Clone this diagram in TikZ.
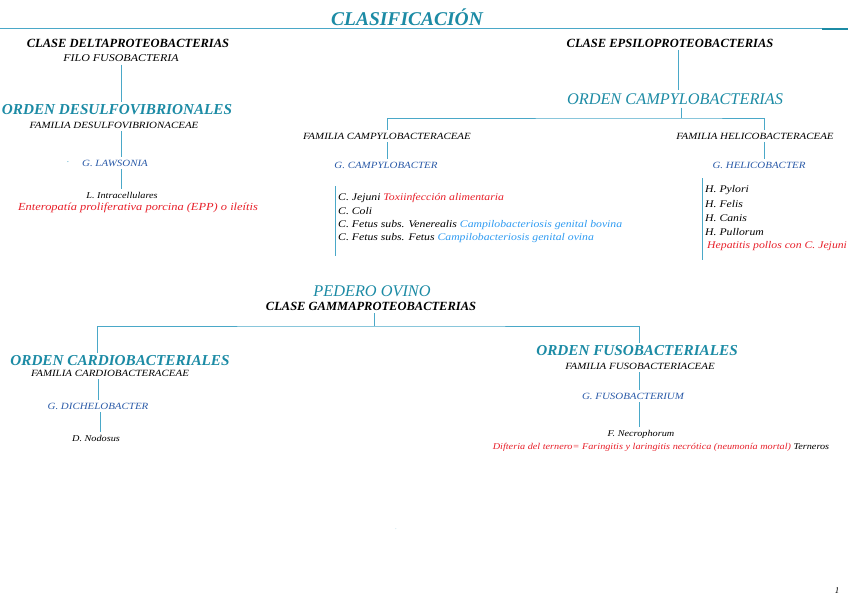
\documentclass[tikz,border=0pt]{standalone}
\usepackage{fontspec}
\setmainfont{Liberation Serif}
\usetikzlibrary{positioning}

\definecolor{tealtit}{HTML}{1C8BA5}
\definecolor{linea}{HTML}{4AA8C8}
\definecolor{genazul}{HTML}{2A5AA8}
\definecolor{rojo}{HTML}{E8202A}
\definecolor{celeste}{HTML}{2E9BF2}

% texto algo ensanchado
\newcommand{\ancho}[1]{\scalebox{1.15}[1]{#1}}

\tikzset{
  titulo/.style={font=\fontsize{19.5}{22}\selectfont\bfseries\itshape, text=tealtit},
  clase/.style={font=\fontsize{12.5}{14}\selectfont\bfseries\itshape},
  orden/.style={font=\fontsize{15.2}{17}\selectfont\bfseries\itshape, text=tealtit},
  ordenl/.style={font=\fontsize{16.3}{18}\selectfont\itshape, text=tealtit},
  filo/.style={font=\fontsize{10.4}{12}\selectfont\itshape},
  familia/.style={font=\fontsize{9.5}{11}\selectfont\itshape},
  genero/.style={font=\fontsize{9.5}{11}\selectfont\itshape, text=genazul},
  especie/.style={font=\fontsize{10.2}{12}\selectfont\itshape},
  enfermedad/.style={font=\fontsize{10.8}{12}\selectfont\itshape, text=rojo},
  chica/.style={font=\fontsize{8.9}{10}\selectfont\itshape},
  conn/.style={draw=linea, line width=0.9pt, shorten <=3pt, shorten >=3pt},
  barra/.style={draw=linea, line width=1pt}
}

\begin{document}
\begin{tikzpicture}[x=1pt,y=-1pt, every node/.style={inner sep=0pt}]
\useasboundingbox[fill=white] (0,0) rectangle (848,599);

% titulo
\node[titulo, anchor=base] (tit) at (407,26) {CLASIFICACIÓN};
\draw[barra] (0,29) -- (848,29);
\draw[draw=tealtit, line width=1.4pt] (822,29) -- (848,29);

% delta
\node[clase] (cdelta) at (128,43) {CLASE DELTAPROTEOBACTERIAS};
\node[filo] (filo) at (121,58) {\ancho{FILO FUSOBACTERIA}};
\node[orden] (odesulfo) at (117,110) {ORDEN DESULFOVIBRIONALES};
\node[familia] (fdesulfo) at (114,125) {\ancho{FAMILIA DESULFOVIBRIONACEAE}};
\node[text=linea, font=\fontsize{9}{9}\selectfont] (punto) at (68,162) {.};
\node[genero] (glaw) at (115,163) {\ancho{G. LAWSONIA}};
\node[chica] (lintra) at (122,195) {\ancho{L. Intracellulares}};
\node[enfermedad] (epp) at (138,208) {\ancho{Enteropatía proliferativa porcina (EPP) o ileítis}};

\draw[conn] (filo.south) -- (filo.south |- odesulfo.north);
\draw[conn] ([xshift=7pt]fdesulfo.south) -- ([xshift=7pt]fdesulfo.south |- glaw.north);
\draw[conn] ([xshift=6pt]glaw.south) -- ([xshift=6pt]glaw.south |- lintra.north);

% epsilon
\node[clase] (cepsilon) at (670,43) {CLASE EPSILOPROTEOBACTERIAS};
\node[ordenl] (ocampy) at (675,99) {ORDEN CAMPYLOBACTERIAS};
\coordinate (busC) at (681,118);
\node[familia] (fcampy) at (387,136) {\ancho{FAMILIA CAMPYLOBACTERACEAE}};
\node[familia] (fhelico) at (755,136) {\ancho{FAMILIA HELICOBACTERACEAE}};
\node[genero] (gcampy) at (386,165) {\ancho{G. CAMPYLOBACTER}};
\node[genero] (ghelico) at (759,165) {\ancho{G. HELICOBACTER}};

\draw[conn] ([xshift=8pt]cepsilon.south) -- ([xshift=8pt]cepsilon.south |- ocampy.north);
\draw[conn, shorten >=0pt] (ocampy.south -| busC) -- (busC);
\draw[conn] (fcampy.north) |- (busC) -| ([xshift=9pt]fhelico.north);
\draw[conn] (fcampy.south) -- (fcampy.south |- gcampy.north);
\draw[conn] ([xshift=9pt]fhelico.south) -- ([xshift=9pt]fhelico.south |- ghelico.north);

\draw[barra] (335,186) -- (335,256);
\node[especie, anchor=west] (cjejuni) at (338,198) {\ancho{C. Jejuni \textcolor{rojo}{Toxiinfección alimentaria}}};
\node[especie, anchor=west] (ccoli) at (338,211) {\ancho{C. Coli}};
\node[especie, anchor=west] (cvener) at (338,225) {\ancho{C. Fetus subs. Venerealis \textcolor{celeste}{Campilobacteriosis genital bovina}}};
\node[especie, anchor=west] (cfetus) at (338,238) {\ancho{C. Fetus subs. Fetus \textcolor{celeste}{Campilobacteriosis genital ovina}}};

\draw[barra] (702,178) -- (702,260);
\node[especie, anchor=west] (hpylori) at (705,190) {\ancho{H. Pylori}};
\node[especie, anchor=west] (hfelis) at (705,204) {\ancho{H. Felis}};
\node[especie, anchor=west] (hcanis) at (705,218) {\ancho{H. Canis}};
\node[especie, anchor=west] (hpullo) at (705,232) {\ancho{H. Pullorum}};
\node[especie, anchor=west, text=rojo] (hepat) at (707,246) {\ancho{Hepatitis pollos con C. Jejuni}};

% gamma
\node[ordenl] (pedero) at (372,291) {PEDERO OVINO};
\node[clase] (cgamma) at (371,306) {CLASE GAMMAPROTEOBACTERIAS};
\coordinate (busG) at (374,326);
\node[orden] (ocardio) at (120,361) {ORDEN CARDIOBACTERIALES};
\node[orden] (ofuso) at (637,351) {ORDEN FUSOBACTERIALES};

\draw[conn, shorten >=0pt] (cgamma.south -| busG) -- (busG);
\draw[conn] ([xshift=-23pt]ocardio.north) |- (busG) -| ([xshift=2pt]ofuso.north);

\node[familia] (fcardio) at (110,373) {\ancho{FAMILIA CARDIOBACTERACEAE}};
\node[genero] (gdichelo) at (98,406) {\ancho{G. DICHELOBACTER}};
\node[chica] (dnodo) at (96,438) {\ancho{D. Nodosus}};
\draw[conn] ([xshift=-12pt]fcardio.south) -- ([xshift=-12pt]fcardio.south |- gdichelo.north);
\draw[conn] ([xshift=2pt]gdichelo.south) -- ([xshift=2pt]gdichelo.south |- dnodo.north);

\node[familia] (ffuso) at (640,366) {\ancho{FAMILIA FUSOBACTERIACEAE}};
\node[genero] (gfuso) at (633,396) {\ancho{G. FUSOBACTERIUM}};
\node[chica] (fnecro) at (641,434) {\ancho{F. Necrophorum}};
\node[chica] (difteria) at (661,447) {\ancho{\textcolor{rojo}{Difteria del ternero= Faringitis y laringitis necrótica (neumonía mortal)} Terneros}};
\draw[conn] ([xshift=-1pt]ffuso.south) -- ([xshift=-1pt]ffuso.south |- gfuso.north);
\draw[conn] ([xshift=6pt]gfuso.south) -- ([xshift=6pt]gfuso.south |- fnecro.north);

% pie
\node[text=linea, font=\tiny] (punto2) at (396,529) {.};
\node[chica] (pagina) at (837,591) {1};
\end{tikzpicture}
\end{document}
